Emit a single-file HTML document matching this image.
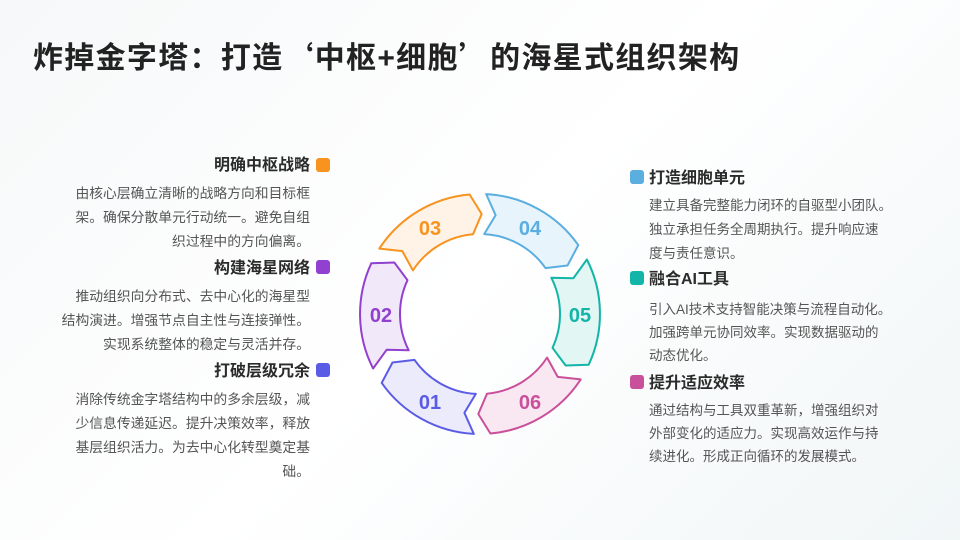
<!DOCTYPE html>
<html><head><meta charset="utf-8"><style>
body{margin:0;width:960px;height:540px;overflow:hidden;background:linear-gradient(135deg,#f6f8f9,#ffffff 50%,#f1f6f7);font-family:"Liberation Sans","Noto Sans CJK SC",sans-serif;position:relative}
.t{position:absolute;left:33px;top:33px;font-size:30px;font-weight:bold;color:#222;letter-spacing:1.3px;white-space:nowrap}
.q{font-family:"Noto Sans CJK SC",sans-serif}
.h{position:absolute;font-size:16px;font-weight:bold;color:#2b2b2b;line-height:22px}
.b{position:absolute;font-size:13.8px;color:#555;line-height:24px;width:290px;white-space:nowrap}
.l{text-align:right;right:650px}
.r{left:649px;font-size:13.5px}
.sq{position:absolute;width:14px;height:14px;border-radius:3px}
</style></head><body>
<div class="t">炸掉金字塔：打造<span class="q">‘</span>中枢+细胞<span class="q">’</span>的海星式组织架构</div>

<div class="sq" style="left:316px;top:158px;background:#f7931e"></div>
<div class="h l" style="top:155px">明确中枢战略</div>
<div class="b l" style="top:182px">由核心层确立清晰的战略方向和目标框<br>架。确保分散单元行动统一。避免自组<br>织过程中的方向偏离。</div>
<div class="sq" style="left:316px;top:260px;background:#9140d0"></div>
<div class="h l" style="top:258px">构建海星网络</div>
<div class="b l" style="top:285px">推动组织向分布式、去中心化的海星型<br>结构演进。增强节点自主性与连接弹性。<br>实现系统整体的稳定与灵活并存。</div>
<div class="sq" style="left:316px;top:363px;background:#5b5ce6"></div>
<div class="h l" style="top:361px">打破层级冗余</div>
<div class="b l" style="top:388px">消除传统金字塔结构中的多余层级，减<br>少信息传递延迟。提升决策效率，释放<br>基层组织活力。为去中心化转型奠定基<br>础。</div>

<div class="sq" style="left:630px;top:170px;background:#5aaee0"></div>
<div class="h r" style="top:168px;font-size:16px">打造细胞单元</div>
<div class="b r" style="top:194px">建立具备完整能力闭环的自驱型小团队。<br>独立承担任务全周期执行。提升响应速<br>度与责任意识。</div>
<div class="sq" style="left:630px;top:271px;background:#12b5a8"></div>
<div class="h r" style="top:269px;font-size:16px">融合AI工具</div>
<div class="b r" style="top:298px;line-height:23px">引入AI技术支持智能决策与流程自动化。<br>加强跨单元协同效率。实现数据驱动的<br>动态优化。</div>
<div class="sq" style="left:630px;top:375px;background:#c9509a"></div>
<div class="h r" style="top:373px;font-size:16px">提升适应效率</div>
<div class="b r" style="top:399px;line-height:23px">通过结构与工具双重革新，增强组织对<br>外部变化的适应力。实现高效运作与持<br>续进化。形成正向循环的发展模式。</div>

<svg width="960" height="540" style="position:absolute;left:0;top:0" font-family="Liberation Sans, sans-serif" font-weight="bold" font-size="20" text-anchor="middle">
<g stroke-width="2" stroke-linejoin="round">
<path d="M373.1,368.5 A120,120 0 0 1 371.3,263.3 L394.3,262.5 L407.5,280.2 A80,80 0 0 0 408.7,350.3 L386.6,349.8 Z" fill="#f1e8f9" stroke="#9140d0"/>
<path d="M379.3,248.6 A120,120 0 0 1 469.6,194.5 L481.7,214.0 L473.0,234.3 A80,80 0 0 0 412.9,270.4 L402.3,251.1 Z" fill="#fef3e6" stroke="#f7931e"/>
<path d="M486.2,194.1 A120,120 0 0 1 578.3,245.1 L567.5,265.5 L545.5,268.1 A80,80 0 0 0 484.2,234.1 L495.6,215.2 Z" fill="#e8f4fb" stroke="#5aaee0"/>
<path d="M586.9,259.5 A120,120 0 0 1 588.7,364.7 L565.7,365.5 L552.5,347.8 A80,80 0 0 0 551.3,277.7 L573.4,278.2 Z" fill="#e2f6f4" stroke="#12b5a8"/>
<path d="M580.7,379.4 A120,120 0 0 1 490.4,433.5 L478.3,414.0 L487.0,393.7 A80,80 0 0 0 547.1,357.6 L557.7,376.9 Z" fill="#f9e8f2" stroke="#c9509a"/>
<path d="M473.8,433.9 A120,120 0 0 1 381.7,382.9 L392.5,362.5 L414.5,359.9 A80,80 0 0 0 475.8,393.9 L464.4,412.8 Z" fill="#ecebfb" stroke="#5b5ce6"/>
</g>
<text x="381" y="322" fill="#9140d0">02</text>
<text x="430" y="235" fill="#f7931e">03</text>
<text x="530" y="235" fill="#5aaee0">04</text>
<text x="580" y="322" fill="#12b5a8">05</text>
<text x="530" y="409" fill="#c9509a">06</text>
<text x="430" y="409" fill="#5b5ce6">01</text>
</svg>
</body></html>
